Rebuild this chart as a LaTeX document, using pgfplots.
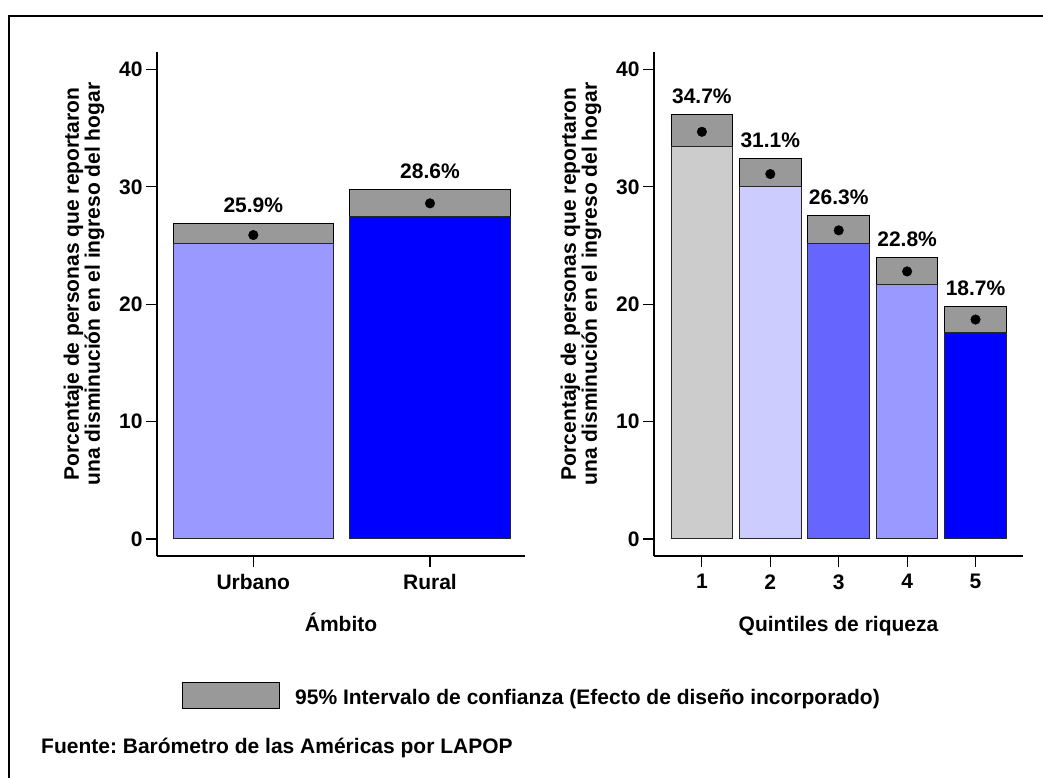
\documentclass[border=0pt]{standalone}
\usepackage{fontspec}
\setmainfont{Liberation Sans}
\usepackage{pgfplots}
\pgfplotsset{compat=1.18}
\frenchspacing
\definecolor{cigray}{HTML}{999999}
\definecolor{q1}{HTML}{CCCCCC}
\definecolor{q2}{HTML}{CCCCFF}
\definecolor{q3}{HTML}{6666FF}
\definecolor{q4}{HTML}{9999FF}
\definecolor{q5}{HTML}{0000FF}
\newcommand{\bigf}{\bfseries\fontsize{21}{21}\selectfont}
\pgfplotsset{
  panel/.style={
    scale only axis, anchor=south west,
    height=504pt,
    ymin=-1.45, ymax=41.5,
    axis x line=bottom, axis y line=left,
    axis line style={-, line width=1.1pt, black},
    ytick={0,10,20,30,40},
    tick align=outside, major tick length=11pt,
    tick style={line width=1.1pt, black},
    tick label style={font=\bigf},
    xticklabel style={yshift=-4pt},
    /pgf/number format/assume math mode=true,
    clip=false,
  },
  cibar/.style={ybar, bar shift=0pt, fill=cigray, draw=black, line width=1pt},
  mainbar/.style={ybar, bar shift=0pt, draw=black!85, line width=1pt, fill=#1},
  meanpt/.style={only marks, mark=*, mark size=4.8pt, black},
  lab/.style={draw=none, mark=none, nodes near coords, point meta=explicit symbolic,
    every node near coord/.append style={font=\bigf, inner sep=0pt, yshift=10.5pt, anchor=south, black}},
}
\begin{document}
\begin{tikzpicture}
\path[use as bounding box] (0,0) rectangle (1043pt,778pt);
\draw[line width=2.5pt] (9pt,-20pt) -- (9pt,762pt) -- (1070pt,762pt);

% Left panel: Ambito
\begin{axis}[panel, at={(157pt,222pt)}, width=368.4pt,
  xmin=-0.545, xmax=1.54, xtick={0,1}, xticklabels={Urbano,Rural}, bar width=0.906]
\addplot[cibar] coordinates {(0,26.9)};
\addplot[mainbar=q4] coordinates {(0,25.2)};
\addplot[cibar] coordinates {(1,29.8)};
\addplot[mainbar=q5] coordinates {(1,27.45)};
\addplot[meanpt] coordinates {(0,25.9) (1,28.6)};
\addplot[lab] coordinates {(0,26.9) [25.9\%] (1,29.8) [28.6\%]};
\end{axis}

% Right panel: Quintiles
\begin{axis}[panel, at={(654pt,222pt)}, width=369.4pt,
  xmin=0.3, xmax=5.7, xtick={1,2,3,4,5}, bar width=0.9]
\addplot[cibar] coordinates {(1,36.15)};
\addplot[mainbar=q1] coordinates {(1,33.45)};
\addplot[cibar] coordinates {(2,32.45)};
\addplot[mainbar=q2] coordinates {(2,30.0)};
\addplot[cibar] coordinates {(3,27.6)};
\addplot[mainbar=q3] coordinates {(3,25.2)};
\addplot[cibar] coordinates {(4,24.0)};
\addplot[mainbar=q4] coordinates {(4,21.65)};
\addplot[cibar] coordinates {(5,19.8)};
\addplot[mainbar=q5] coordinates {(5,17.6)};
\addplot[meanpt] coordinates {(1,34.7) (2,31.1) (3,26.3) (4,22.8) (5,18.7)};
\addplot[lab] coordinates {(1,36.15) [34.7\%] (2,32.45) [31.1\%] (3,27.6) [26.3\%] (4,24.0) [22.8\%] (5,19.8) [18.7\%]};
\end{axis}

% Axis titles
\node[font=\bigf, anchor=base] at (341pt,146pt) {Ámbito};
\node[font=\bigf, anchor=base] at (838.5pt,146pt) {Quintiles de riqueza};
\node[font=\bigf, rotate=90, align=center, inner sep=0pt] at (84pt,494pt)
  {Porcentaje de personas que reportaron\\una disminución en el ingreso del hogar};
\node[font=\bigf, rotate=90, align=center, inner sep=0pt] at (581pt,494pt)
  {Porcentaje de personas que reportaron\\una disminución en el ingreso del hogar};

% Legend and source
\draw[fill=cigray, line width=1pt] (182pt,69pt) rectangle (279pt,95pt);
\node[font=\bigf, anchor=base west, inner sep=0pt] at (295pt,73pt)
  {95\% Intervalo de confianza (Efecto de diseño incorporado)};
\node[font=\bigf, anchor=base west, inner sep=0pt] at (41pt,24.7pt)
  {Fuente: Barómetro de las Américas por LAPOP};
\end{tikzpicture}
\end{document}
